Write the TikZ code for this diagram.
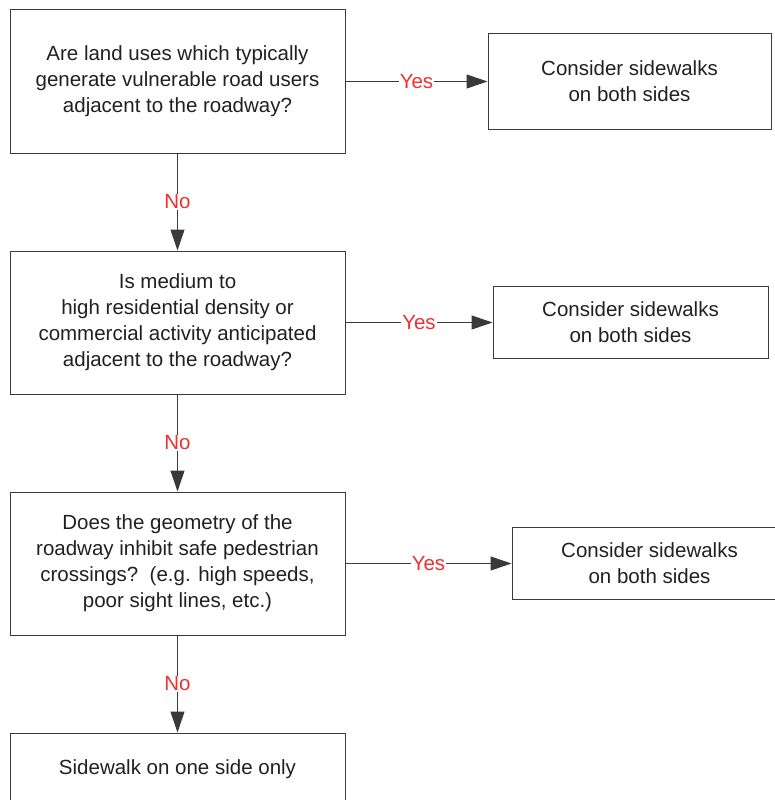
\documentclass[tikz,border=0pt]{standalone}
\usepackage{fontspec}
\setmainfont{Liberation Sans}
\usepackage{tikz}
\usetikzlibrary{arrows.meta,positioning}
\definecolor{ink}{HTML}{231F20}
\definecolor{edge}{HTML}{3A3A3A}
\definecolor{answer}{HTML}{EE3030}
\tikzstyle{question}=[draw=edge,line width=1pt,text=ink,align=center,minimum width=335pt,minimum height=143pt,inner sep=0pt]
\tikzstyle{result}=[draw=edge,line width=1pt,text=ink,align=center,minimum width=275pt,minimum height=72pt,inner sep=0pt]
\tikzstyle{flow}=[draw=edge,line width=1pt,-{Triangle[length=21pt,width=14pt]}]
\tikzstyle{answer}=[fill=white,text=answer,inner sep=1pt]

\begin{document}
\begin{tikzpicture}[x=1pt,y=-1pt,font=\fontsize{20.5}{26}\selectfont]
\useasboundingbox (0,0) rectangle (774,800);
\node [question] (q1) at (177.5,81.5) {Are land uses which typically\\generate vulnerable road users\\adjacent to the roadway?};
\node [question,below=97pt of q1] (q2) {Is medium to\\high residential density or\\commercial activity anticipated\\adjacent to the roadway?};
\node [question,below=97pt of q2] (q3) {Does the geometry of the\\roadway inhibit safe pedestrian\\crossings?\ \ (e.g. high speeds,\\poor sight lines, etc.)};
\node [result,below=97pt of q3,minimum width=335pt] (q4) {Sidewalk on one side only};

\node [result,minimum width=283pt,minimum height=96pt,right=142pt of q1] (a1) {Consider sidewalks\\on both sides};
\node [result,right=147pt of q2] (a2) {Consider sidewalks\\on both sides};
\node [result,right=166pt of q3] (a3) {Consider sidewalks\\on both sides};

\draw [flow] (q1.east) -- node [answer] {Yes} (a1.west);
\draw [flow] (q2.east) -- node [answer] {Yes} (a2.west);
\draw [flow] (q3.east) -- node [answer] {Yes} (a3.west);
\draw [flow] (q1.south) -- node [answer] {No} (q2.north);
\draw [flow] (q2.south) -- node [answer] {No} (q3.north);
\draw [flow] (q3.south) -- node [answer] {No} (q4.north);
\end{tikzpicture}
\end{document}
